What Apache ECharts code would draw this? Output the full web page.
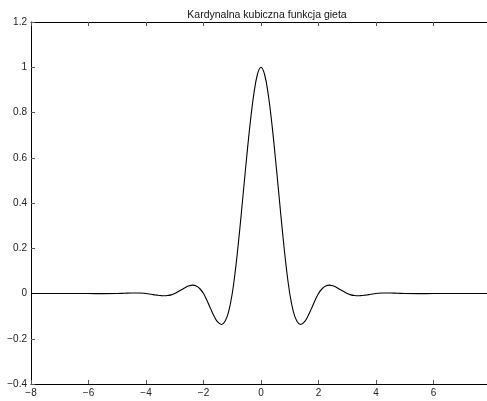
<!DOCTYPE html>
<html>
<head>
<meta charset="utf-8">
<script src="https://cdn.jsdelivr.net/npm/echarts@6/dist/echarts.min.js"></script>
<style>
  html, body { margin: 0; padding: 0; background: #fff; overflow: hidden; }
  #chart { width: 487px; height: 401px; }
</style>
</head>
<body>
<div id="chart"></div>
<script>
// Cardinal cubic spline: sample positions and values
const xs = [
  -8, -6, -5.5, -5, -4.75, -4.5, -4.25,
  -4, -3.875, -3.75, -3.625, -3.5, -3.375, -3.25, -3.125,
  -3, -2.875, -2.75, -2.625, -2.5, -2.375, -2.25, -2.125,
  -2, -1.875, -1.75, -1.625, -1.5, -1.375, -1.25, -1.125,
  -1, -0.875, -0.75, -0.625, -0.5, -0.375, -0.25, -0.125,
  0, 0.125, 0.25, 0.375, 0.5, 0.625, 0.75, 0.875,
  1, 1.125, 1.25, 1.375, 1.5, 1.625, 1.75, 1.875,
  2, 2.125, 2.25, 2.375, 2.5, 2.625, 2.75, 2.875,
  3, 3.125, 3.25, 3.375, 3.5, 3.625, 3.75, 3.875,
  4, 4.25, 4.5, 4.75, 5, 5.5, 6, 8
];
const ys = [
  0, 0, -0.0007, 0, 0.0013, 0.0025, 0.0024,
  0, -0.002, -0.005, -0.007, -0.009, -0.010, -0.009, -0.006,
  0, 0.009, 0.018, 0.027, 0.034, 0.037, 0.033, 0.021,
  0, -0.032, -0.068, -0.102, -0.127, -0.137, -0.123, -0.080,
  0, 0.120, 0.269, 0.434, 0.600, 0.754, 0.881, 0.968,
  1, 0.968, 0.881, 0.754, 0.600, 0.434, 0.269, 0.120,
  0, -0.080, -0.123, -0.137, -0.127, -0.102, -0.068, -0.032,
  0, 0.021, 0.033, 0.037, 0.034, 0.027, 0.018, 0.009,
  0, -0.006, -0.009, -0.010, -0.009, -0.007, -0.005, -0.002,
  0, 0.0024, 0.0025, 0.0013, 0, -0.0007, 0, 0
];
const xTicks = [-8, -6, -4, -2, 0, 2, 4, 6, 8];
const yTicks = [-0.4, -0.2, 0, 0.2, 0.4, 0.6, 0.8, 1, 1.2];
const titleText = 'Kardynalna kubiczna funkcja gieta';

const minus = v => String(v).replace('-', '\u2212');
const font = 'Liberation Sans, Arial, Helvetica, sans-serif';

const frameAxis = {
  axisLine: { show: true, onZero: false, lineStyle: { color: '#000', width: 1 } },
  axisTick: { show: true, inside: true, length: 4, lineStyle: { color: '#555', width: 1 } },
  splitLine: { show: false }
};

const chart = echarts.init(document.getElementById('chart'), null, { renderer: 'canvas' });
chart.setOption({
  animation: false,
  backgroundColor: '#fff',
  title: {
    text: titleText,
    left: 262, top: 5, textAlign: 'center',
    textStyle: { fontFamily: font, fontSize: 10.5, fontWeight: 'normal', color: '#111' }
  },
  // the plot box runs past the right edge of the canvas
  grid: { left: 31, top: 22, width: 460, height: 362, containLabel: false, outerBoundsMode: 'none' },
  xAxis: [
    Object.assign({
      type: 'value', position: 'bottom',
      min: xTicks[0], max: xTicks[xTicks.length - 1], interval: 2,
      axisLabel: {
        margin: 4, fontFamily: font, fontSize: 10, color: '#222',
        formatter: minus, showMaxLabel: false
      }
    }, frameAxis),
    Object.assign({
      type: 'value', position: 'top',
      min: xTicks[0], max: xTicks[xTicks.length - 1], interval: 2,
      axisLabel: { show: false }
    }, frameAxis)
  ],
  yAxis: [
    Object.assign({
      type: 'value', position: 'left',
      min: yTicks[0], max: yTicks[yTicks.length - 1], interval: 0.2,
      axisLabel: {
        margin: 4, fontFamily: font, fontSize: 10, color: '#222',
        formatter: v => minus(Math.round(v * 10) / 10)
      }
    }, frameAxis)
  ],
  series: [{
    type: 'line',
    data: xs.map((x, i) => [x, ys[i]]),
    showSymbol: false,
    smooth: 0.4,
    lineStyle: { color: '#000', width: 1.1 },
    clip: true
  }]
});
</script>
</body>
</html>
